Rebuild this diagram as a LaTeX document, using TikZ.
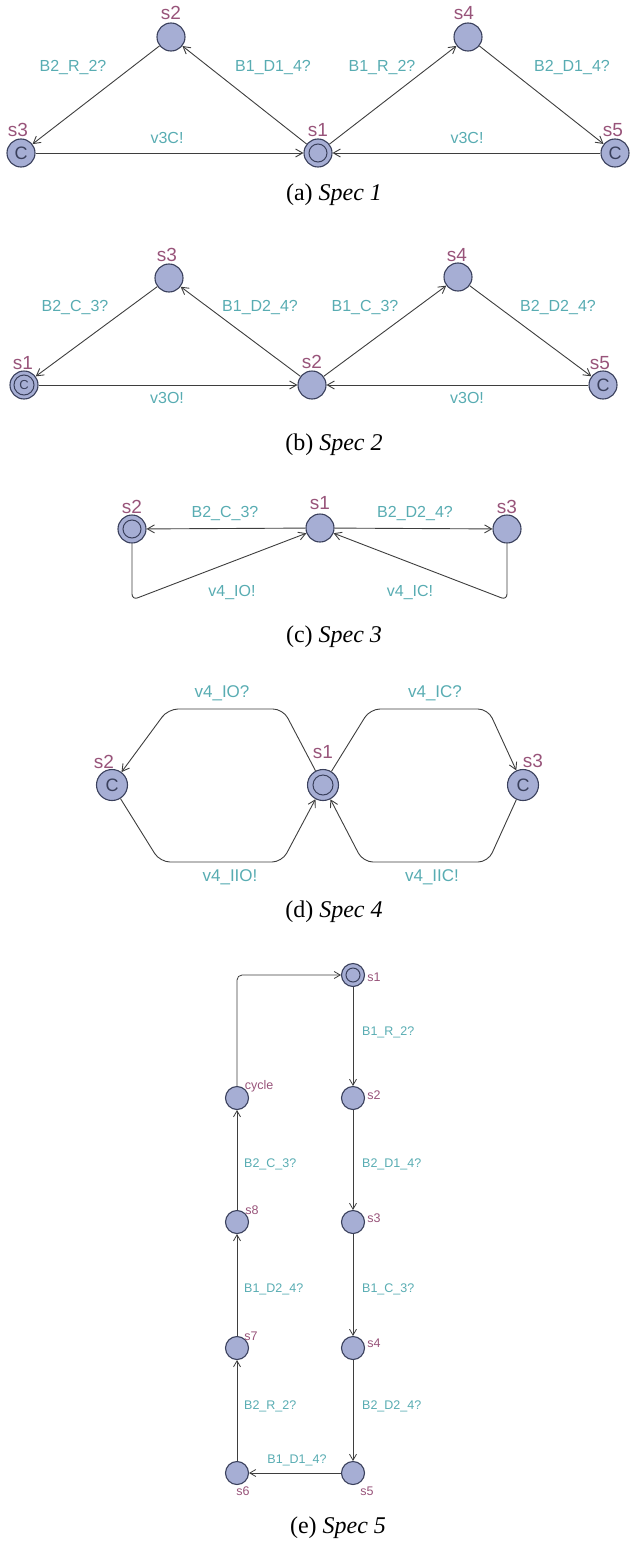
\documentclass[tikz,border=0pt]{standalone}
\usepackage{fontspec}
\setmainfont{Liberation Serif}
\newfontfamily\upf{Liberation Sans}
\usetikzlibrary{arrows.meta}
\definecolor{locfill}{RGB}{166,174,212}
\definecolor{locdraw}{RGB}{58,64,92}
\definecolor{edgecol}{RGB}{62,62,62}
\definecolor{synccol}{RGB}{88,172,178}
\definecolor{namecol}{RGB}{152,84,122}
\begin{document}
\begin{tikzpicture}[x=1pt,y=-1pt,
  loc/.style={circle,fill=locfill,draw=locdraw,line width=1.1pt,minimum size=28pt,inner sep=0pt,text=locdraw,font=\upf\fontsize{18}{18}\selectfont},
  bigloc/.style={loc,minimum size=31pt},
  smallloc/.style={loc,minimum size=23pt},
  initloc/.style={path picture={\draw[locdraw,line width=1pt] (path picture bounding box.center) circle (#1);}},
  initloc/.default=9pt,
  edge/.style={draw=edgecol,line width=0.9pt,-{Straight Barb[length=7pt,width=8pt]}},
  smalledge/.style={draw=edgecol,line width=0.8pt,-{Straight Barb[length=6pt,width=7pt]}},
  sync/.style={text=synccol,font=\upf\fontsize{16}{16}\selectfont,inner sep=0pt},
  bigsync/.style={text=synccol,font=\upf\fontsize{17}{17}\selectfont,inner sep=0pt},
  smallsync/.style={text=synccol,font=\upf\fontsize{12.5}{12.5}\selectfont,inner sep=0pt},
  locname/.style={text=namecol,font=\upf\fontsize{19}{19}\selectfont,inner sep=0pt},
  smallname/.style={text=namecol,font=\upf\fontsize{12.5}{12.5}\selectfont,inner sep=0pt},
  captxt/.style={font=\fontsize{24}{24}\selectfont,inner sep=0pt}
]
\useasboundingbox (0,0) rectangle (631,1544);

% ---------- Spec 1 ----------
\node[loc] (a2) at (171,37) {};
\node[loc] (a3) at (21,153) {C};
\node[loc,initloc] (a1) at (318,153) {};
\node[loc] (a4) at (468,37) {};
\node[loc] (a5) at (615,153) {C};
\node[locname] (a2n) at (171,13) {s2};
\node[locname] (a3n) at (18,130) {s3};
\node[locname] (a1n) at (318,130) {s1};
\node[locname] (a4n) at (464,13) {s4};
\node[locname] (a5n) at (613,130) {s5};
\draw[edge] (a2) -- (a3);
\draw[edge] (a1) -- (a2);
\draw[edge] (a3) -- (a1);
\draw[edge] (a1) -- (a4);
\draw[edge] (a4) -- (a5);
\draw[edge] (a5) -- (a1);
\node[sync] (a23) at (73,68) {B2\_R\_2?};
\node[sync] (a12) at (273,68) {B1\_D1\_4?};
\node[sync] (a31) at (167,138) {v3C!};
\node[sync] (a14) at (382,68) {B1\_R\_2?};
\node[sync] (a45) at (572,68) {B2\_D1\_4?};
\node[sync] (a51) at (467,138) {v3C!};
\node[captxt] (capa) at (334,195) {(a) \textit{Spec 1}};

% ---------- Spec 2 ----------
\node[loc] (b3) at (169,278) {};
\node[loc,initloc=10pt,font=\upf\fontsize{13}{13}\selectfont] (b1) at (24,385) {C};
\node[loc] (b2) at (312,385) {};
\node[loc] (b4) at (458,277) {};
\node[loc] (b5) at (603,385) {C};
\node[locname] (b3n) at (167,255) {s3};
\node[locname] (b1n) at (23,363) {s1};
\node[locname] (b2n) at (312,362) {s2};
\node[locname] (b4n) at (457,255) {s4};
\node[locname] (b5n) at (600,363) {s5};
\draw[edge] (b3) -- (b1);
\draw[edge] (b2) -- (b3);
\draw[edge] (b1) -- (b2);
\draw[edge] (b2) -- (b4);
\draw[edge] (b4) -- (b5);
\draw[edge] (b5) -- (b2);
\node[sync] (b31) at (75,308) {B2\_C\_3?};
\node[sync] (b23) at (260,308) {B1\_D2\_4?};
\node[sync] (b12) at (167,398) {v3O!};
\node[sync] (b24) at (365,308) {B1\_C\_3?};
\node[sync] (b45) at (558,308) {B2\_D2\_4?};
\node[sync] (b52) at (467,398) {v3O!};
\node[captxt] (capb) at (334,445) {(b) \textit{Spec 2}};

% ---------- Spec 3 ----------
\node[loc,initloc] (c2) at (132,529) {};
\node[loc] (c1) at (320,528) {};
\node[loc] (c3) at (507,529) {};
\node[locname] (c2n) at (132,507) {s2};
\node[locname] (c1n) at (320,503) {s1};
\node[locname] (c3n) at (507,507) {s3};
\coordinate (c2b) at (132,600);
\coordinate (c3b) at (507,600);
\draw[edge] (c1) -- (c2);
\draw[edge] (c1) -- (c3);
\draw[edge,rounded corners=6pt] (c2) -- (c2b) -- (c1);
\draw[edge,rounded corners=6pt] (c3) -- (c3b) -- (c1);
\node[sync] (c12) at (225,513) {B2\_C\_3?};
\node[sync] (c13) at (415,513) {B2\_D2\_4?};
\node[sync] (c21) at (232,592) {v4\_IO!};
\node[sync] (c31) at (410,592) {v4\_IC!};
\node[captxt] (capc) at (334,637) {(c) \textit{Spec 3}};

% ---------- Spec 4 ----------
\node[bigloc] (d2) at (112,785) {C};
\node[bigloc,initloc=10pt] (d1) at (323,785) {};
\node[bigloc] (d3) at (523,785) {C};
\node[locname] (d2n) at (104,762) {s2};
\node[locname] (d1n) at (323,752) {s1};
\node[locname] (d3n) at (533,761) {s3};
\coordinate (dtl1) at (283,709);
\coordinate (dtl2) at (168,709);
\coordinate (dbl1) at (160,862);
\coordinate (dbl2) at (282,862);
\coordinate (dtr1) at (370,709);
\coordinate (dtr2) at (488,709);
\coordinate (dbr1) at (488,862);
\coordinate (dbr2) at (363,862);
\draw[edge,rounded corners=10pt] (d1) -- (dtl1) -- (dtl2) -- (d2);
\draw[edge,rounded corners=10pt] (d2) -- (dbl1) -- (dbl2) -- (d1);
\draw[edge,rounded corners=10pt] (d1) -- (dtr1) -- (dtr2) -- (d3);
\draw[edge,rounded corners=10pt] (d3) -- (dbr1) -- (dbr2) -- (d1);
\node[bigsync] (d12) at (222,693) {v4\_IO?};
\node[bigsync] (d13) at (435,693) {v4\_IC?};
\node[bigsync] (d21) at (230,877) {v4\_IIO!};
\node[bigsync] (d31) at (432,877) {v4\_IIC!};
\node[captxt] (capd) at (334,912) {(d) \textit{Spec 4}};

% ---------- Spec 5 ----------
\node[smallloc,initloc=7pt] (e1) at (353,975) {};
\node[smallloc] (e2) at (353,1098) {};
\node[smallloc] (e3) at (353,1222) {};
\node[smallloc] (e4) at (353,1348) {};
\node[smallloc] (e5) at (353,1473) {};
\node[smallloc] (e6) at (237,1473) {};
\node[smallloc] (e7) at (237,1348) {};
\node[smallloc] (e8) at (237,1222) {};
\node[smallloc] (ecy) at (237,1098) {};
\node[smallname] (e1n) at (374,977) {s1};
\node[smallname] (e2n) at (374,1095) {s2};
\node[smallname] (ecyn) at (259,1086) {cycle};
\node[smallname] (e8n) at (252,1210) {s8};
\node[smallname] (e3n) at (374,1218) {s3};
\node[smallname] (e7n) at (251,1336) {s7};
\node[smallname] (e4n) at (374,1343) {s4};
\node[smallname] (e6n) at (243,1491) {s6};
\node[smallname] (e5n) at (367,1491) {s5};
\coordinate (ecorner) at (237,975);
\draw[smalledge] (e1) -- (e2);
\draw[smalledge] (e2) -- (e3);
\draw[smalledge] (e3) -- (e4);
\draw[smalledge] (e4) -- (e5);
\draw[smalledge] (e5) -- (e6);
\draw[smalledge] (e6) -- (e7);
\draw[smalledge] (e7) -- (e8);
\draw[smalledge] (e8) -- (ecy);
\draw[smalledge,rounded corners=5pt] (ecy) -- (ecorner) -- (e1);
\node[smallsync,anchor=west] (e12) at (362,1032) {B1\_R\_2?};
\node[smallsync,anchor=west] (e23) at (362,1164) {B2\_D1\_4?};
\node[smallsync,anchor=west] (e34) at (362,1289) {B1\_C\_3?};
\node[smallsync,anchor=west] (e45) at (362,1406) {B2\_D2\_4?};
\node[smallsync,anchor=west] (e8c) at (244,1164) {B2\_C\_3?};
\node[smallsync,anchor=west] (e78) at (244,1289) {B1\_D2\_4?};
\node[smallsync,anchor=west] (e67) at (244,1406) {B2\_R\_2?};
\node[smallsync] (e56) at (297,1460) {B1\_D1\_4?};
\node[captxt] (cape) at (338,1528) {(e) \textit{Spec 5}};
\end{tikzpicture}
\end{document}
